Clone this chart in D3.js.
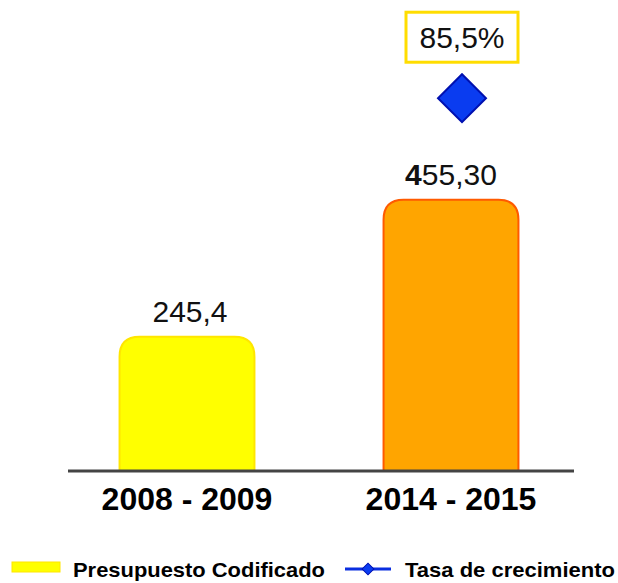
<!DOCTYPE html>
<html><head>
<meta charset="utf-8">
<script src="https://d3js.org/d3.v7.min.js"></script>
<style>
  body { margin: 0; background: #fff; }
  text { font-family: "Liberation Sans", Arial, sans-serif; }
</style>
</head>
<body>
<div id="chart"></div>
<script>
// data
var periods = ["2008 - 2009", "2014 - 2015"];
var budget = [245.4, 455.30];
var budgetLabels = ["245,4", "455,30"];
var growth = [null, 85.5];
var growthLabels = ["", "85,5%"];
var barFill = ["#ffff00", "#ffa500"];
var barStroke = ["#ffe600", "#ff5a00"];

var W = 618, H = 583;
var baseY = 471;

var svg = d3.select("#chart").append("svg")
  .attr("width", W).attr("height", H);

// scales
var x = d3.scaleBand()
  .domain(periods)
  .range([55, 583])
  .paddingInner(0.489)
  .paddingOuter(0.2445);

var y = d3.scaleLinear().domain([40, 700]).range([baseY, 40]);
var y2 = d3.scaleLinear().domain([0, 100]).range([baseY, 35]);

// bar with rounded top corners
function barPath(x0, w, top, bottom, r) {
  return "M" + x0 + "," + bottom +
    "V" + (top + r) +
    "Q" + x0 + "," + top + " " + (x0 + r) + "," + top +
    "H" + (x0 + w - r) +
    "Q" + (x0 + w) + "," + top + " " + (x0 + w) + "," + (top + r) +
    "V" + bottom + "Z";
}

svg.selectAll("path.bar")
  .data(budget)
  .enter().append("path")
    .attr("class", "bar")
    .attr("d", function(d, i) { return barPath(x(periods[i]), x.bandwidth(), y(d), baseY, 20); })
    .attr("fill", function(d, i) { return barFill[i]; })
    .attr("stroke", function(d, i) { return barStroke[i]; })
    .attr("stroke-width", 2);

// value labels
svg.selectAll("text.val")
  .data(budget)
  .enter().append("text")
    .attr("class", "val")
    .attr("x", function(d, i) { return x(periods[i]) + x.bandwidth() / 2 + (i === 0 ? 3 : 0); })
    .attr("y", function(d) { return y(d) - 15; })
    .attr("text-anchor", "middle")
    .style("font-size", "30px")
    .attr("fill", "#111")
    .each(function(d, i) {
      var t = d3.select(this);
      if (i === 1) {
        t.append("tspan").style("font-weight", "bold").text(budgetLabels[i].charAt(0));
        t.append("tspan").text(budgetLabels[i].slice(1));
      } else {
        t.text(budgetLabels[i]);
      }
    });

// baseline
svg.append("line")
  .attr("x1", 68).attr("x2", 574)
  .attr("y1", baseY).attr("y2", baseY)
  .attr("stroke", "#444").attr("stroke-width", 3);

// category labels
var xAxis = d3.axisBottom(x).tickSize(0).tickPadding(16);
var gx = svg.append("g").attr("transform", "translate(0," + baseY + ")").call(xAxis);
gx.select(".domain").remove();
gx.selectAll("text")
  .style("font-family", "'Liberation Sans', Arial, sans-serif")
  .style("font-size", "32px")
  .style("font-weight", "bold")
  .attr("fill", "#000");

// growth rate marker + label box
var diamond = d3.symbol().type(d3.symbolDiamond2 || d3.symbolDiamond).size(1150);
growth.forEach(function(g, i) {
  if (g == null) return;
  var cx = x(periods[i]) + x.bandwidth() / 2 + 11;
  var cy = y2(g);
  svg.append("path")
    .attr("d", d3.symbol().type(d3.symbolSquare).size(1150)())
    .attr("transform", "translate(" + cx + "," + cy + ") rotate(45)")
    .attr("fill", "#0a3cf0")
    .attr("stroke", "#0010b0")
    .attr("stroke-width", 2);
  svg.append("rect")
    .attr("x", cx - 56).attr("y", cy - 86)
    .attr("width", 112).attr("height", 50)
    .attr("fill", "#fff")
    .attr("stroke", "#ffdd00")
    .attr("stroke-width", 3);
  svg.append("text")
    .attr("x", cx).attr("y", cy - 50)
    .attr("text-anchor", "middle")
    .style("font-size", "30px")
    .attr("fill", "#111")
    .text(growthLabels[i]);
});

// legend
var lg = svg.append("g");
lg.append("rect").attr("x", 12).attr("y", 562).attr("width", 48).attr("height", 10)
  .attr("fill", "#ffff00").attr("stroke", "#ffe600");
lg.append("text").attr("x", 73).attr("y", 577)
  .style("font-size", "21px").style("font-weight", "bold")
  .attr("textLength", 252).attr("lengthAdjust", "spacingAndGlyphs")
  .text("Presupuesto Codificado");
lg.append("line").attr("x1", 345).attr("x2", 391).attr("y1", 569).attr("y2", 569)
  .attr("stroke", "#0a2ee0").attr("stroke-width", 3);
lg.append("path")
  .attr("d", d3.symbol().type(d3.symbolSquare).size(70)())
  .attr("transform", "translate(368,569) rotate(45)")
  .attr("fill", "#0a3cf0").attr("stroke", "#0010b0");
lg.append("text").attr("x", 405).attr("y", 577)
  .style("font-size", "21px").style("font-weight", "bold")
  .attr("textLength", 210).attr("lengthAdjust", "spacingAndGlyphs")
  .text("Tasa de crecimiento");
</script>
</body></html>
